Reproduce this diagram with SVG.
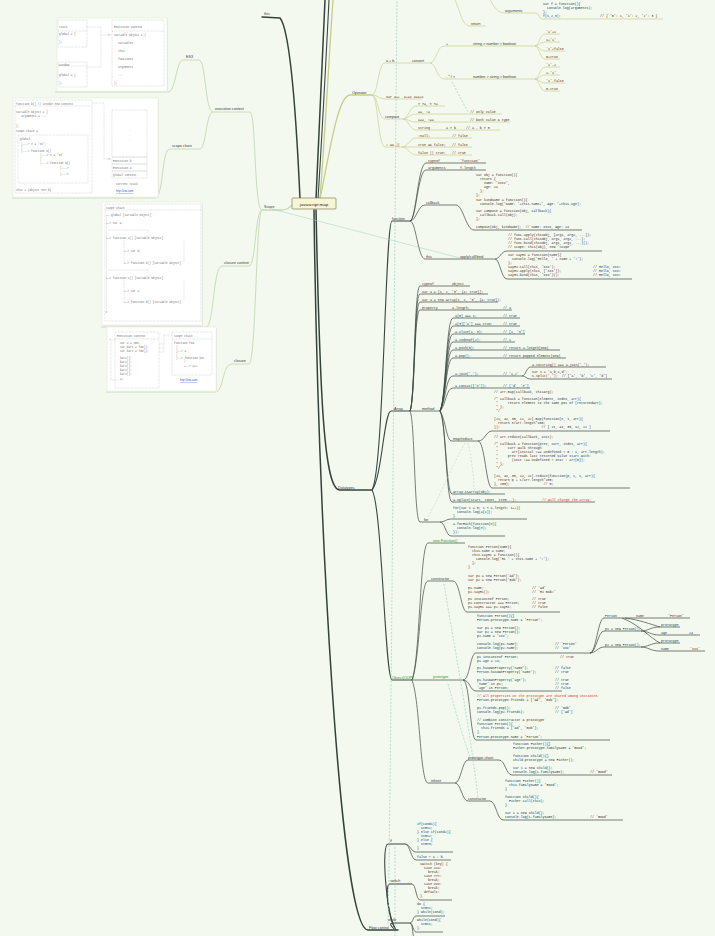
<svg xmlns="http://www.w3.org/2000/svg" width="715" height="936" viewBox="0 0 715 936">
<style>
.c{font-family:"Liberation Mono",monospace;font-size:3.3px;fill:#333;white-space:pre}
.r{fill:#e8261e}
.l{font-family:"Liberation Sans",sans-serif;font-size:3.7px;fill:#3a3a3a}
.gl{font-family:"Liberation Sans",sans-serif;font-size:3.7px;fill:#2f9a2f}
.b{font-family:"Liberation Mono",monospace;font-size:2.8px;fill:#6f6f6f;white-space:pre}
.lk{font-family:"Liberation Sans",sans-serif;font-size:2.8px;fill:#2a52d8;text-decoration:underline}
.d{fill:none;stroke:#34423b;stroke-width:1.5;stroke-linecap:round}
.m{fill:none;stroke:#3a4842;stroke-width:1.1}
.s{fill:none;stroke:#3d4944;stroke-width:.7}
.o{fill:none;stroke:#c5ce87;stroke-width:1.3}
.os{fill:none;stroke:#c9d190;stroke-width:.7}
.g{fill:none;stroke:#c4dbb0;stroke-width:1.3}
.gs{fill:none;stroke:#c8deb6;stroke-width:1}
.rel{fill:none;stroke:#9fcfc6;stroke-width:.7;stroke-dasharray:2 1.5}
.rg{fill:none;stroke:#c2ccc4;stroke-width:.6;stroke-dasharray:2 1.5}
.bx{fill:#ffffff;stroke:#e3e8e0;stroke-width:.5}
.dl{fill:none;stroke:#aaa;stroke-width:.35;stroke-dasharray:.8 .6}
</style>
<rect width="715" height="936" fill="#f3f9ef"/>

<g id="connectors">
  <path class="d" d="M300,199 C296,110 290,30 280,18 L262,17"/>
  <path class="d" d="M316,199 C320,110 323,40 325,0"/>
  <path class="m" d="M318,199 C323,120 327,40 329,0"/>
  <path class="o" d="M320,199 C326,120 330,40 333,0"/>
  <path class="os" d="M455,0 C460,10 462,26 470,26 L486,26"/>
  <path class="os" d="M490,0 C495,8 498,13 505,13 L536,13 C539,13 539,19 542,19 L663,19"/>
  <path class="o" d="M320,199 C330,150 338,95 350,95 L372,95"/>
  <path class="os" d="M372,95 C378,95 378,63 385,63 L430,63"/>
  <path class="os" d="M430,63 C436,63 437,46 444,46 L535,46"/>
  <path class="os" d="M430,63 C436,63 437,79 444,79 L535,79"/>
  <path class="os" d="M535,46 C539,46 540,34 545,34 L560,34"/>
  <path class="os" d="M535,46 C539,46 540,42 545,42 L560,42"/>
  <path class="os" d="M535,46 C539,46 540,51 545,51 L565,51"/>
  <path class="os" d="M535,46 C539,46 540,59 545,59 L560,59"/>
  <path class="os" d="M535,79 C539,79 540,67 545,67 L560,67"/>
  <path class="os" d="M535,79 C539,79 540,75 545,75 L560,75"/>
  <path class="os" d="M535,79 C539,79 540,83 545,83 L565,83"/>
  <path class="os" d="M535,79 C539,79 540,91 545,91 L560,91"/>
  <path class="os" d="M372,95 C378,95 379,99 385,99 L422,99"/>
  <path class="os" d="M372,95 C378,95 378,119 385,119 L403,119"/>
  <path class="os" d="M403,119 C408,119 410,106 416,106 L445,106"/>
  <path class="os" d="M403,119 C408,119 410,114 416,114 L502,114"/>
  <path class="os" d="M403,119 C408,119 410,122 416,122 L510,122"/>
  <path class="os" d="M403,119 C408,119 410,130 416,130 L500,130"/>
  <path class="os" d="M372,95 C378,95 378,147 385,147 L402,147"/>
  <path class="os" d="M402,147 C408,147 410,138 416,138 L472,138"/>
  <path class="os" d="M402,147 C408,147 410,147 416,147 L472,147"/>
  <path class="os" d="M402,147 C408,147 410,155 416,155 L472,155"/>
  <path class="rel" d="M452,82 L468,112"/>

  <path class="d" d="M316,210 C320,400 324,490 340,490 L372,490"/>
  <path class="m" d="M372,490 C384,470 385,221 392,221 L410,221"/>
  <path class="m" d="M372,490 C382,478 384,411 391,411 L410,411"/>
  <path class="m" d="M372,490 C382,505 385,680 392,680 L412,680"/>
  <path class="s" d="M410,221 C416,221 418,163 426,163 L486,163"/>
  <path class="s" d="M410,221 C416,221 418,170 426,170 L486,170"/>
  <path class="s" d="M410,221 C416,221 418,205 425,205 L456,205"/>
  <path class="s" d="M456,205 C463,205 466,230 474,230 L582,230"/>
  <path class="s" d="M410,221 C416,221 418,259 425,259 L495,259"/>
  <path class="s" d="M495,259 C500,259 501,251 507,251 L602,251"/>
  <path class="s" d="M495,259 C500,259 501,279 507,279 L632,279"/>
  <path class="s" d="M410,411 C415,400 414,286 420,286 L470,286"/>
  <path class="s" d="M410,411 C415,400 414,294 420,294 L488,294"/>
  <path class="s" d="M410,411 C415,400 414,302 420,302 L498,302"/>
  <path class="s" d="M410,411 C415,400 414,310 420,310 L512,310"/>
  <path class="s" d="M410,411 L440,411"/>
  <path class="s" d="M440,411 C446,400 446,318 453,318 L520,318"/>
  <path class="s" d="M440,411 C446,400 446,326 453,326 L520,326"/>
  <path class="s" d="M440,411 C446,400 446,334 453,334 L525,334"/>
  <path class="s" d="M440,411 C446,400 446,342 453,342 L515,342"/>
  <path class="s" d="M440,411 C446,400 446,350 453,350 L560,350"/>
  <path class="s" d="M440,411 C446,400 446,358 453,358 L566,358"/>
  <path class="s" d="M440,411 C446,400 446,376 453,376 L522,376"/>
  <path class="s" d="M522,376 C526,376 526,367 531,367 L606,367"/>
  <path class="s" d="M522,376 C526,376 526,379 531,379 L612,379"/>
  <path class="s" d="M440,411 C446,405 446,388 453,388 L530,388"/>
  <path class="s" d="M440,411 C446,420 446,441 452,441 L478,441"/>
  <path class="s" d="M478,441 C485,441 486,431 492,431 L610,431"/>
  <path class="s" d="M478,441 C485,441 486,488 492,488 L630,488"/>
  <path class="s" d="M440,411 C446,420 446,494 452,494 L505,494"/>
  <path class="s" d="M440,411 C446,420 446,502 452,502 L595,502"/>
  <path class="s" d="M410,411 C415,420 414,522 420,522 L440,522"/>
  <path class="s" d="M440,522 C445,522 446,519 451,519 L527,519"/>
  <path class="s" d="M440,522 C445,522 446,536 451,536 L505,536"/>
  <path class="rg" d="M465,443 C450,470 438,500 428,517"/>
  <path class="rg" d="M468,443 C472,460 474,480 474,491"/>
  <path class="s" d="M412,680 C420,660 420,543 428,543 L465,543"/>
  <path class="s" d="M412,680 C420,660 420,581 428,581 L453,581"/>
  <path class="s" d="M453,581 C460,581 461,612 467,612 L560,612"/>
  <path class="s" d="M412,680 L463,680"/>
  <path class="s" d="M463,680 C470,680 470,653 476,653 L590,653"/>
  <path class="s" d="M463,680 C470,680 470,691 476,691 L562,691"/>
  <path class="s" d="M463,680 C470,680 470,740 476,740 L610,740"/>
  <path class="s" d="M590,653 C596,653 598,618 604,618 L625,618 L690,618"/>
  <path class="s" d="M590,653 C596,653 598,631 604,631 L641,631"/>
  <path class="s" d="M590,653 C596,653 598,647 604,647 L641,647"/>
  <path class="s" d="M641,631 C648,631 651,627 659,627 L680,627"/>
  <path class="s" d="M641,631 C648,631 651,635 659,635 L700,635"/>
  <path class="s" d="M641,647 C648,647 651,643 659,643 L680,643"/>
  <path class="s" d="M641,647 C648,647 651,651 659,651 L705,651"/>
  <path class="s" d="M625,618 C640,620 650,624 660,627" stroke-width=".4"/>
  <path class="s" d="M622,618 C640,625 650,638 660,643" stroke-width=".4"/>
  <path class="s" d="M412,680 C420,700 420,783 428,783 L455,783"/>
  <path class="s" d="M455,783 C461,783 462,760 468,760 L499,760"/>
  <path class="s" d="M499,760 C505,760 506,775 512,775 L612,775"/>
  <path class="s" d="M455,783 C461,783 462,801 468,801 L490,801"/>
  <path class="s" d="M490,801 C496,801 497,820 503,820 L623,820"/>
  <path class="rel" d="M444,584 C455,650 470,730 478,797"/>
  <path class="rel" d="M448,684 C458,720 464,740 470,757"/>

  <path class="d" d="M314,210 C318,520 340,930 368,930 L398,930"/>
  <path class="m" d="M396,930 C386,915 381,844 388,844 L405,844"/>
  <path class="m" d="M396,930 C388,918 384,884 390,884 L412,884"/>
  <path class="m" d="M396,930 C392,928 388,923 393,923 L410,923"/>
  <path class="s" d="M405,844 C410,844 411,852 416,852 L453,852"/>
  <path class="s" d="M405,844 C410,844 411,860 416,860 L451,860"/>
  <path class="s" d="M412,884 C416,884 416,900 420,900 L452,900"/>
  <path class="s" d="M410,923 C413,923 413,916 416,916 L445,916"/>
  <path class="s" d="M410,923 C413,923 413,932 416,932 L443,932"/>
  <path class="s" d="M410,923 C413,923 412,934 414,938"/>
  <path class="rel" d="M395,847 L395,936"/>
  <path class="rel" d="M388,924 C392,700 394,300 397,0"/>

  <path class="g" d="M292,205 C288,209 286,210 281,210 L262,210"/>
  <path class="gs" d="M262,210 C254,210 256,112 250,112 L213,112"/>
  <path class="gs" d="M213,112 C205,112 206,60 199,60 L183,60"/>
  <path class="gs" d="M183,60 C176,60 176,92 168,92 L55,92"/>
  <path class="gs" d="M213,112 C206,112 206,149 200,149 L170,149"/>
  <path class="gs" d="M170,149 C161,149 164,198 155,198 L12,198"/>
  <path class="gs" d="M262,210 C255,210 256,266 249,266 L222,266"/>
  <path class="gs" d="M222,266 C213,266 214,327 206,327 L101,327"/>
  <path class="gs" d="M262,210 C256,210 256,364 249,364 L232,364"/>
  <path class="gs" d="M232,364 C222,364 224,392 215,392 L106,392"/>
  <path d="M272,209 L460,258" fill="none" stroke="#a3cdc6" stroke-width=".5"/>
</g>

<g id="node-center">
  <rect x="292" y="198" width="44" height="11" rx="1" fill="#f8f5d4" stroke="#6e6c4c" stroke-width=".6"/>
  <text x="314" y="205.5" text-anchor="middle" font-family="Liberation Sans, sans-serif" font-size="4.4" fill="#222">javascript map</text>
</g>

<g id="node-this"><text class="l" x="264" y="15">this</text></g>

<g id="node-top">
  <text class="l" x="471" y="25">return</text>
  <text class="l" x="505" y="12">arguments</text>
  <text class="c" x="543" y="5">var f = function(){</text>
  <text class="c" x="543" y="9">  console.log(arguments);</text>
  <text class="c" x="543" y="13">};</text>
  <text class="c" x="543" y="17">f(1,2,3);</text>
  <text class="c" x="600" y="17">// { '0': 1, '1': 2, '2': 3 }</text>
</g>

<g id="node-operator">
  <text class="l" x="352" y="94">Operator</text>
  <text class="l" x="386" y="62">a + b</text>
  <text class="l" x="412" y="62">convert</text>
  <text class="l" x="446" y="45">+</text>
  <text class="l" x="473" y="45">string &gt; number &gt; boolean</text>
  <text class="l" x="446" y="78">- * / &gt;</text>
  <text class="l" x="473" y="78">number &gt; string &gt; boolean</text>
  <text class="c" x="546" y="33">'1'+1</text>
  <text class="c" x="546" y="41">1+'1'</text>
  <text class="c" x="546" y="50">'1'+false</text>
  <text class="c" x="546" y="58">0+true</text>
  <text class="c" x="546" y="66">'1'-2</text>
  <text class="c" x="546" y="74">2-'1'</text>
  <text class="c" x="546" y="82">'1'-false</text>
  <text class="c" x="546" y="90">0-true</text>
  <text class="c" x="386" y="98">var a++  a+=1 a=a+1</text>
  <text class="l" x="385" y="118">compare</text>
  <text class="c" x="418" y="105">&gt; &gt;=, &lt; &lt;=</text>
  <text class="c" x="418" y="113">==, !=</text>
  <text class="c" x="470" y="113">// only value</text>
  <text class="c" x="418" y="121">===, !==</text>
  <text class="c" x="470" y="121">// both value &amp; type</text>
  <text class="c" x="418" y="129">string</text>
  <text class="c" x="446" y="129">a &gt; b</text>
  <text class="c" x="466" y="129">// a - b &gt; 0</text>
  <text class="c" x="386" y="146">! &amp;&amp; ||</text>
  <text class="c" x="418" y="137">!null;</text>
  <text class="c" x="452" y="137">// false</text>
  <text class="c" x="418" y="146">true &amp;&amp; false;</text>
  <text class="c" x="452" y="146">// false</text>
  <text class="c" x="418" y="154">false || true;</text>
  <text class="c" x="452" y="154">// true</text>
</g>

<g id="node-datatypes">
  <text class="l" x="338" y="489">Datatypes</text>
</g>

<g id="node-function">
  <text class="l" x="392" y="220">function</text>
  <text class="c" x="428" y="162">typeof</text>
  <text class="c" x="460" y="162">'function'</text>
  <text class="c" x="428" y="169">arguments</text>
  <text class="c" x="460" y="169">f.length</text>
  <text class="l" x="426" y="204">callback</text>
  <text class="c" x="476" y="176">var obj = function(){</text>
  <text class="c" x="476" y="180">  return {</text>
  <text class="c" x="476" y="184">    name: 'xxxx',</text>
  <text class="c" x="476" y="188">    age: 24</text>
  <text class="c" x="476" y="192">  };</text>
  <text class="c" x="476" y="196">};</text>
  <text class="c" x="476" y="201">var kindName = function(){</text>
  <text class="c" x="476" y="205">  console.log('Name: '+this.name+', Age: '+this.age);</text>
  <text class="c" x="476" y="212">var compose = function(obj, callback){</text>
  <text class="c" x="476" y="216">  callback.call(obj);</text>
  <text class="c" x="476" y="220">};</text>
  <text class="c" x="476" y="228">compose(obj, kindName);  // Name: xxxx, Age: 24</text>
  <text class="l" x="426" y="258">this</text>
  <text class="l" x="460" y="258">apply/call/bind</text>
  <text class="c" x="508" y="236">// func.apply(thisObj, [arg1, arg2, ...]);</text>
  <text class="c" x="508" y="240">// func.call(thisObj, arg1, arg2, ...);</text>
  <text class="c" x="508" y="244">// func.bind(thisObj, arg1, arg2, ...)();</text>
  <text class="c" x="508" y="248">// scope: this(obj), new 'Scope'</text>
  <text class="c" x="508" y="256">var sayHi = function(name){</text>
  <text class="c" x="508" y="260">  console.log('Hello, ' + name + '!');</text>
  <text class="c" x="508" y="264">};</text>
  <text class="c" x="508" y="268">sayHi.call(this, 'xxx');</text>
  <text class="c" x="508" y="272">sayHi.apply(this, ['xxx']);</text>
  <text class="c" x="508" y="276">sayHi.bind(this, 'xxx')();</text>
  <text class="c" x="593" y="268">// Hello, xxx!</text>
  <text class="c" x="593" y="272">// Hello, xxx!</text>
  <text class="c" x="593" y="276">// Hello, xxx!</text>
</g>

<g id="node-array">
  <text class="l" x="394" y="410">Array</text>
  <text class="c" x="422" y="285">typeof</text>
  <text class="c" x="452" y="285">object</text>
  <text class="c" x="422" y="293">var a = [1, 2, '3', {a: true}];</text>
  <text class="c" x="422" y="301">var a = new Array(1, 2, '3', {a: true});</text>
  <text class="c" x="422" y="309">property</text>
  <text class="c" x="452" y="309">a.length;</text>
  <text class="c" x="503" y="309">// 4</text>
  <text class="l" x="422" y="410">method</text>
  <text class="c" x="455" y="317">a[0] === 1;</text>
  <text class="c" x="503" y="317">// true</text>
  <text class="c" x="455" y="325">a[3]['a'] === true;</text>
  <text class="c" x="503" y="325">// true</text>
  <text class="c" x="455" y="333">a.slice(1, 3);</text>
  <text class="c" x="503" y="333">// [2, '3']</text>
  <text class="c" x="455" y="341">a.indexOf(2);</text>
  <text class="c" x="503" y="341">// 1</text>
  <text class="c" x="455" y="349">a.push(5);</text>
  <text class="c" x="503" y="349">// return a.length(New)</text>
  <text class="c" x="455" y="357">a.pop();</text>
  <text class="c" x="503" y="357">// return popped element(New)</text>
  <text class="c" x="455" y="375">a.join(',');</text>
  <text class="c" x="503" y="375">// '1,2'</text>
  <text class="c" x="532" y="366">a.toString() === a.join(',');</text>
  <text class="c" x="532" y="373">var s = 'a,b,c,d';</text>
  <text class="c" x="532" y="377">s.split(',');  // ['a', 'b', 'c', 'd']</text>
  <text class="c" x="455" y="387">a.concat(['e']);</text>
  <text class="c" x="503" y="387">// ['d', 'e']</text>
  <text class="l" x="453" y="440">map/reduce</text>
  <text class="c" x="494" y="393">// arr.map(callback, thisArg);</text>
  <text class="c" x="494" y="400">/* callback = function(element, index, arr){</text>
  <text class="c" x="494" y="404"> *     return element to the same pos of [returnedArr];</text>
  <text class="c" x="494" y="408"> * };</text>
  <text class="c" x="494" y="412"> */</text>
  <text class="c" x="494" y="420">[21, 44, 35, 12, 22].map(function(e, i, arr){</text>
  <text class="c" x="494" y="424">  return e/arr.length*100;</text>
  <text class="c" x="494" y="428">});                     // [ 21, 44, 35, 12, 22 ]</text>
  <text class="c" x="494" y="438">// arr.reduce(callback, init);</text>
  <text class="c" x="494" y="445">/* callback = function(prev, curr, index, arr){</text>
  <text class="c" x="494" y="449"> *     curr walk through</text>
  <text class="c" x="494" y="453"> *       arr[initial !== undefined ? 0 : 1, arr.length);</text>
  <text class="c" x="494" y="457"> *     prev reads last returned value start with:</text>
  <text class="c" x="494" y="461"> *       (init !== undefined ? init : arr[0]);</text>
  <text class="c" x="494" y="465"> * };</text>
  <text class="c" x="494" y="469"> */</text>
  <text class="c" x="494" y="477">[21, 44, 35, 12, 22].reduce(function(p, c, i, arr){</text>
  <text class="c" x="494" y="481">  return p + c/arr.length*100;</text>
  <text class="c" x="494" y="485">}, 100);                 // 0;</text>
  <text class="c" x="453" y="493">Array.isArray(obj);</text>
  <text class="c" x="453" y="501">a.splice(start, count, item...);</text>
  <text class="c r" x="542" y="501">// will change the array</text>
  <text class="l" x="424" y="521">for</text>
  <text class="c" x="453" y="509">for(var i = 0; i &lt; a.length; i++){</text>
  <text class="c" x="453" y="513">  console.log(a[i]);</text>
  <text class="c" x="453" y="517">}</text>
  <text class="c" x="453" y="525">a.forEach(function(e){</text>
  <text class="c" x="453" y="529">  console.log(e);</text>
  <text class="c" x="453" y="533">});</text>
</g>

<g id="node-object">
  <text class="gl" x="392" y="679">Object(OOP)</text>
  <text class="gl" x="433" y="542">new Function()</text>
  <text class="c" x="468" y="548">function Person(name){</text>
  <text class="c" x="468" y="552">  this.name = name;</text>
  <text class="c" x="468" y="556">  this.sayHi = function(){</text>
  <text class="c" x="468" y="560">    console.log('Hi ' + this.name + '!');</text>
  <text class="c" x="468" y="564">  };</text>
  <text class="c" x="468" y="568">}</text>
  <text class="l" x="431" y="580">constructor</text>
  <text class="c" x="468" y="577">var p1 = new Person('Ad');</text>
  <text class="c" x="468" y="581">var p2 = new Person('Bob');</text>
  <text class="c" x="468" y="589">p1.name;</text>
  <text class="c" x="468" y="593">p2.sayHi();</text>
  <text class="c" x="468" y="600">p1 instanceof Person;</text>
  <text class="c" x="468" y="604">p1.constructor === Person;</text>
  <text class="c" x="468" y="608">p1.sayHi === p2.sayHi;</text>
  <text class="c" x="532" y="589">// 'Ad'</text>
  <text class="c" x="532" y="593">// 'Hi Bob!'</text>
  <text class="c" x="532" y="600">// true</text>
  <text class="c" x="532" y="604">// true</text>
  <text class="c" x="532" y="608">// false</text>
  <text class="gl" x="433" y="678">prototype</text>
  <text class="c" x="477" y="617">function Person(){}</text>
  <text class="c" x="477" y="621">Person.prototype.name = 'Person';</text>
  <text class="c" x="477" y="629">var p1 = new Person();</text>
  <text class="c" x="477" y="633">var p2 = new Person();</text>
  <text class="c" x="477" y="637">p2.name = 'xxx';</text>
  <text class="c" x="477" y="645">console.log(p1.name);</text>
  <text class="c" x="477" y="649">console.log(p2.name);</text>
  <text class="c" x="555" y="645">// 'Person'</text>
  <text class="c" x="555" y="649">// 'xxx'</text>
  <text class="c" x="605" y="617">Person</text>
  <text class="c" x="636" y="617">name</text>
  <text class="c" x="668" y="617">'Person'</text>
  <text class="c" x="661" y="626">prototype</text>
  <text class="c" x="605" y="630">p1 = new Person();</text>
  <text class="c" x="661" y="634">age</text>
  <text class="c" x="689" y="634">24</text>
  <text class="c" x="661" y="642">prototype</text>
  <text class="c" x="605" y="646">p2 = new Person();</text>
  <text class="c" x="661" y="650">name</text>
  <text class="c" x="690" y="650">'xxx'</text>
  <text class="c" x="477" y="658">p1 instanceof Person;</text>
  <text class="c" x="477" y="662">p1.age = 24;</text>
  <text class="c" x="477" y="669">p1.hasOwnProperty('name');</text>
  <text class="c" x="477" y="673">Person.hasOwnProperty('name');</text>
  <text class="c" x="477" y="681">p1.hasOwnProperty('age');</text>
  <text class="c" x="477" y="685">'name' in p1;</text>
  <text class="c" x="477" y="689">'age' in Person;</text>
  <text class="c" x="560" y="658">// true</text>
  <text class="c" x="555" y="669">// false</text>
  <text class="c" x="555" y="673">// true</text>
  <text class="c" x="555" y="681">// true</text>
  <text class="c" x="555" y="685">// true</text>
  <text class="c" x="555" y="689">// false</text>
  <text class="c r" x="477" y="697">// All properties on the prototype are shared among instances</text>
  <text class="c" x="477" y="701">Person.prototype.friends = ['Ad', 'Bob'];</text>
  <text class="c" x="477" y="709">p1.friends.pop();</text>
  <text class="c" x="477" y="713">console.log(p2.friends);</text>
  <text class="c" x="555" y="709">// 'Bob'</text>
  <text class="c" x="555" y="713">// ['Ad']</text>
  <text class="c" x="477" y="721">// Combine constructor &amp; prototype</text>
  <text class="c" x="477" y="725">function Person(){</text>
  <text class="c" x="477" y="729">  this.friends = ['Ad', 'Bob'];</text>
  <text class="c" x="477" y="733">}</text>
  <text class="c" x="477" y="738">Person.prototype.name = 'Person';</text>
  <text class="l" x="431" y="782">inherit</text>
  <text class="l" x="468" y="759">prototype chain</text>
  <text class="c" x="513" y="745">function Father(){}</text>
  <text class="c" x="513" y="749">Father.prototype.familyName = 'Good';</text>
  <text class="c" x="513" y="757">function Child(){}</text>
  <text class="c" x="513" y="761">Child.prototype = new Father();</text>
  <text class="c" x="513" y="769">var c = new Child();</text>
  <text class="c" x="513" y="773">console.log(c.familyName);</text>
  <text class="c" x="590" y="773">// 'Good'</text>
  <text class="l" x="468" y="800">constructor</text>
  <text class="c" x="505" y="782">function Father(){</text>
  <text class="c" x="505" y="786">  this.familyName = 'Good';</text>
  <text class="c" x="505" y="790">}</text>
  <text class="c" x="505" y="798">function Child(){</text>
  <text class="c" x="505" y="802">  Father.call(this);</text>
  <text class="c" x="505" y="806">}</text>
  <text class="c" x="505" y="814">var c = new Child();</text>
  <text class="c" x="505" y="818">console.log(c.familyName);</text>
  <text class="c" x="590" y="818">// 'Good'</text>
</g>

<g id="node-flow">
  <text class="l" x="369" y="929">Flow control</text>
  <text class="l" x="390" y="842">if</text>
  <text class="c" x="417" y="825">if(cond1){</text>
  <text class="c" x="417" y="829">  stmt1;</text>
  <text class="c" x="417" y="833">} else if(cond2){</text>
  <text class="c" x="417" y="837">  stmt2;</text>
  <text class="c" x="417" y="841">} else {</text>
  <text class="c" x="417" y="845">  stmt3;</text>
  <text class="c" x="417" y="849">}</text>
  <text class="c" x="417" y="858">false ? a : b</text>
  <text class="l" x="390" y="882">switch</text>
  <text class="c" x="420" y="865">switch (key) {</text>
  <text class="c" x="420" y="869">  case XXX:</text>
  <text class="c" x="420" y="873">    break;</text>
  <text class="c" x="420" y="877">  case YYY:</text>
  <text class="c" x="420" y="881">    break;</text>
  <text class="c" x="420" y="885">  case ZZZ:</text>
  <text class="c" x="420" y="889">    break;</text>
  <text class="c" x="420" y="893">  default:</text>
  <text class="c" x="420" y="897">}</text>
  <text class="l" x="388" y="921">while</text>
  <text class="c" x="417" y="905">do {</text>
  <text class="c" x="417" y="909">  stmt1;</text>
  <text class="c" x="417" y="913">} while(cond);</text>
  <text class="c" x="417" y="921">while(cond){</text>
  <text class="c" x="417" y="925">  stmt1;</text>
  <text class="c" x="417" y="929">}</text>
</g>

<g id="node-scope">
  <text class="l" x="264" y="208">Scope</text>
  <text class="l" x="215" y="110">execution context</text>
  <text class="l" x="186" y="58">ES3</text>
  <text class="l" x="172" y="147">scope chain</text>
  <text class="l" x="224" y="264">closure context</text>
  <text class="l" x="234" y="362">closure</text>
</g>

<g id="box-es3">
  <rect x="58" y="19" width="110" height="73" fill="#e6ece2"/>
  <rect class="bx" x="57" y="18" width="110" height="73"/>
  <rect class="dl" x="58" y="20" width="29" height="27"/>
  <line class="dl" x1="58" y1="31" x2="87" y2="31"/>
  <text class="b" x="59" y="28">Stack</text>
  <text class="b" x="59" y="35">global = {</text>
  <text class="b" x="59" y="43">};</text>
  <rect class="dl" x="58" y="62" width="29" height="25"/>
  <line class="dl" x1="58" y1="66" x2="87" y2="66"/>
  <text class="b" x="59" y="65.5">Window</text>
  <text class="b" x="59" y="76">global = {</text>
  <text class="b" x="59" y="84">};</text>
  <path class="dl" d="M87,27 H101 V67 H87 M101,35 H111"/>
  <text class="b" x="108" y="36">&gt;</text>
  <rect class="dl" x="112" y="20" width="52" height="66"/>
  <line class="dl" x1="112" y1="31" x2="164" y2="31"/>
  <text class="b" x="114" y="28">Execution Context</text>
  <text class="b" x="114" y="36">Variable Object = {</text>
  <text class="b" x="118" y="44">variables</text>
  <text class="b" x="118" y="52">this</text>
  <text class="b" x="118" y="60">functions</text>
  <text class="b" x="118" y="68">arguments</text>
  <text class="b" x="118" y="76">...</text>
  <text class="b" x="114" y="84">};</text>
</g>

<g id="box-scope-chain">
  <rect x="14" y="99" width="145" height="99" fill="#e6ece2"/>
  <rect class="bx" x="13" y="98" width="145" height="99"/>
  <rect class="dl" x="15" y="100" width="77" height="93"/>
  <line class="dl" x1="15" y1="106" x2="92" y2="106"/>
  <text class="b" x="16" y="104.5">function b() // invoke new context</text>
  <text class="b" x="16" y="113">Variable Object = {</text>
  <text class="b" x="18" y="117">  arguments = ...</text>
  <text class="b" x="16" y="127">};</text>
  <text class="b" x="16" y="132">Scope chain =</text>
  <rect class="dl" x="18" y="135" width="70" height="48"/>
  <text class="b" x="20" y="140">global</text>
  <text class="b" x="21" y="145">|---&gt; I = 'xx';</text>
  <text class="b" x="21" y="148">|</text>
  <text class="b" x="21" y="152">|---&gt; function a()</text>
  <text class="b" x="40" y="156">|---&gt; I = 'xx'</text>
  <text class="b" x="40" y="160">|</text>
  <text class="b" x="40" y="164">|---&gt; function b()</text>
  <text class="b" x="60" y="169">|---&gt;</text>
  <text class="b" x="60" y="175">|---&gt;</text>
  <text class="b" x="16" y="191">this = {Object env b}</text>
  <path class="dl" d="M92,103 H104 V159 H111"/>
  <text class="b" x="108" y="160">&gt;</text>
  <rect class="dl" x="112" y="110" width="35" height="47"/>
  <text class="b" x="129" y="131">.</text>
  <text class="b" x="129" y="136">.</text>
  <text class="b" x="129" y="141">.</text>
  <rect class="dl" x="112" y="157" width="35" height="7"/>
  <rect class="dl" x="112" y="164" width="35" height="7"/>
  <rect class="dl" x="112" y="171" width="35" height="7"/>
  <text class="b" x="113" y="162">Execution b</text>
  <text class="b" x="113" y="169">Execution a</text>
  <text class="b" x="113" y="176">global context</text>
  <text class="b" x="116" y="185">Current Stack</text>
  <text class="lk" x="116" y="192">http://xxx.com</text>
</g>

<g id="box-closure-context">
  <rect x="103" y="203" width="100" height="123" fill="#e6ece2"/>
  <rect class="bx" x="102" y="202" width="100" height="123"/>
  <rect class="dl" x="105" y="204" width="96" height="117"/>
  <line class="dl" x1="105" y1="210" x2="201" y2="210"/>
  <text class="b" x="106" y="208.5">Scope Chain</text>
  <text class="b" x="106" y="216">+--global [Variable Object]</text>
  <line class="dl" x1="106.5" y1="217" x2="106.5" y2="310"/>
  <text class="b" x="106" y="224">+-&gt; var a;</text>
  <path class="dl" d="M108,230 H148 V233"/>
  <text class="b" x="106" y="239">+-&gt; function a() [Variable Object]</text>
  <line class="dl" x1="124" y1="240" x2="124" y2="264"/>
  <path class="dl" d="M184,241 V262"/>
  <text class="b" x="124" y="252">+-&gt; var b;</text>
  <text class="b" x="124" y="264">+-&gt; function b() [Variable Object]</text>
  <path class="dl" d="M108,270 H148 V273"/>
  <text class="b" x="106" y="279">+-&gt; function c() [Variable Object]</text>
  <line class="dl" x1="124" y1="280" x2="124" y2="303"/>
  <path class="dl" d="M184,281 V302"/>
  <text class="b" x="124" y="292">+-&gt; var c;</text>
  <text class="b" x="124" y="303">+-&gt; function d() [Variable Object]</text>
  <text class="b" x="105.5" y="313">v</text>
</g>

<g id="box-closure">
  <rect x="108" y="328" width="109" height="64" fill="#e6ece2"/>
  <rect class="bx" x="107" y="327" width="109" height="64"/>
  <rect class="dl" x="115" y="332" width="44" height="56"/>
  <line class="dl" x1="115" y1="339" x2="159" y2="339"/>
  <text class="b" x="117" y="337">Execution context</text>
  <text class="b" x="120" y="344">var a = 100;</text>
  <text class="b" x="120" y="348">var bar1 = foo();</text>
  <text class="b" x="120" y="352">var bar2 = foo();</text>
  <text class="b" x="120" y="359">bar1();</text>
  <text class="b" x="120" y="363">bar1();</text>
  <text class="b" x="120" y="367">bar2();</text>
  <text class="b" x="120" y="371">bar2();</text>
  <text class="b" x="120" y="375">bar2();</text>
  <text class="b" x="120" y="380">a;</text>
  <path class="dl" d="M115,340 H111 V380 H118"/>
  <text class="b" x="109" y="341">^</text>
  <path class="dl" d="M159,344 H164 M159,348 H164 M159,352 H164 M164,335 V352 M164,335 H172"/>
  <rect class="dl" x="172" y="332" width="40" height="43"/>
  <line class="dl" x1="172" y1="339" x2="212" y2="339"/>
  <text class="b" x="174" y="337">Scope chain</text>
  <text class="b" x="174" y="344">function foo</text>
  <text class="b" x="176" y="348">|</text>
  <text class="b" x="176" y="352">|--&gt; a</text>
  <text class="b" x="176" y="355">|</text>
  <text class="b" x="176" y="359">|--&gt; function bar</text>
  <text class="b" x="184" y="362">|</text>
  <text class="b" x="184" y="367">+--&gt; a++</text>
  <text class="lk" x="180" y="381">http://xxx.com</text>
</g>
</svg>
